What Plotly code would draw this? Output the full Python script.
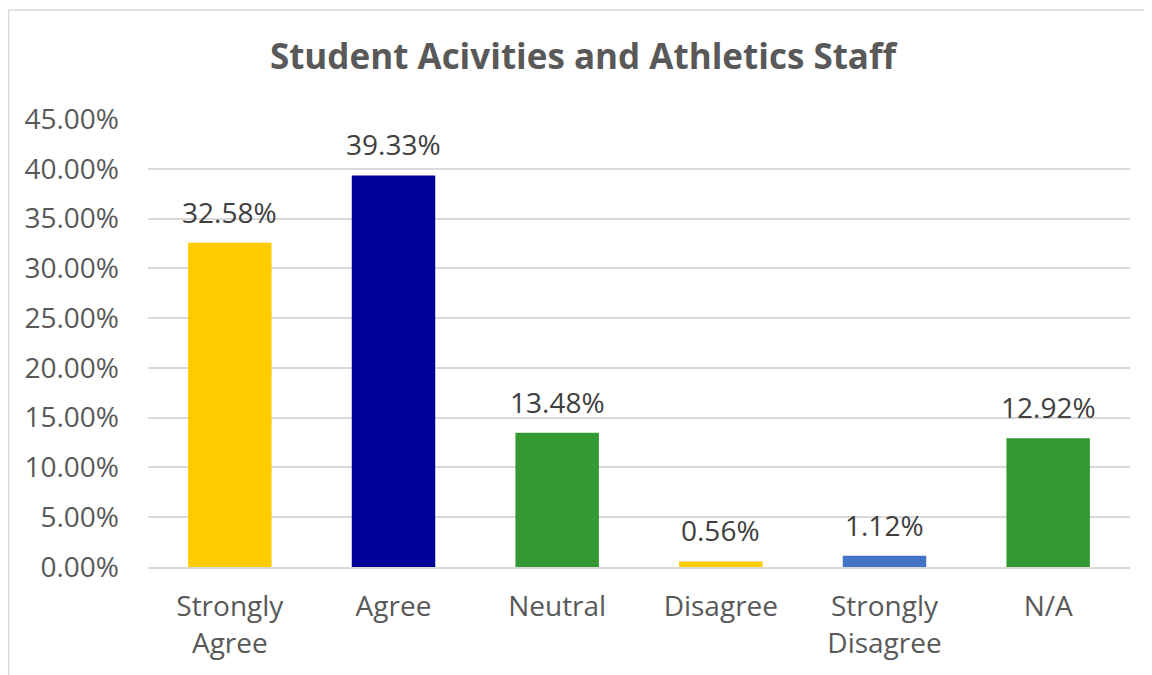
import plotly.graph_objects as go

categories = ["Strongly<br>Agree", "Agree", "Neutral", "Disagree", "Strongly<br>Disagree", "N/A"]
values = [32.58, 39.33, 13.48, 0.56, 1.12, 12.92]
colors = ["#FFCC00", "#000099", "#339933", "#FFCC00", "#4472C4", "#339933"]
tick_vals = [0, 5, 10, 15, 20, 25, 30, 35, 40, 45]
tick_text = [f"{v:.2f}%" for v in tick_vals]
title = "Student Acivities and Athletics Staff"

font = "Open Sans, Noto Sans, sans-serif"

fig = go.Figure(go.Bar(
    x=categories, y=values,
    marker=dict(color=colors, line=dict(width=0)),
    width=0.51,
    cliponaxis=False,
    hoverinfo="x+y",
))

for c, v in zip(categories, values):
    fig.add_annotation(x=c, y=v, text=f"{v:.2f}%", showarrow=False,
                       yanchor="bottom", yshift=10,
                       font=dict(size=28, color="#404040", family=font))

# page body has an 8px margin; figure coordinates are screen minus 8
OFF = 8
L, R, T, B = 148 - OFF, 1130 - OFF, 119 - OFF, 567 - OFF
W, H = 1152, 675

fig.update_layout(
    width=W, height=H,
    margin=dict(l=L, r=W - R, t=T, b=H - B),
    paper_bgcolor="white", plot_bgcolor="white",
    title=dict(text=f"<b>{title}</b>", x=(583 - OFF) / W, xanchor="center",
               y=1 - (57 - OFF) / H, yanchor="middle",
               font=dict(size=35, color="#595959", family=font)),
    showlegend=False,
    xaxis=dict(showgrid=False, showline=True, linecolor="#D9D9D9", linewidth=1.5,
               tickfont=dict(size=28, color="#595959", family=font), ticks="",
               ticklabelstandoff=14, fixedrange=True),
    yaxis=dict(range=[0, 45], tickvals=tick_vals, ticktext=tick_text,
               showgrid=True, gridcolor="#D9D9D9", gridwidth=1.5, zeroline=False,
               tickfont=dict(size=28, color="#595959", family=font),
               ticklabelstandoff=28, showline=False, fixedrange=True),
    shapes=[dict(type="line", xref="paper", yref="paper",
                 x0=(0.5 - L) / (R - L), x1=(1160 - L) / (R - L),
                 y0=(B - (10 - OFF)) / (B - T), y1=(B - (10 - OFF)) / (B - T),
                 line=dict(color="#D9D9D9", width=1.5)),
            dict(type="line", xref="paper", yref="paper",
                 x0=(0.5 - L) / (R - L), x1=(0.5 - L) / (R - L),
                 y0=(B - (10 - OFF)) / (B - T), y1=(B - 690) / (B - T),
                 line=dict(color="#D9D9D9", width=1.5))],
)

fig.write_html("out.html")
